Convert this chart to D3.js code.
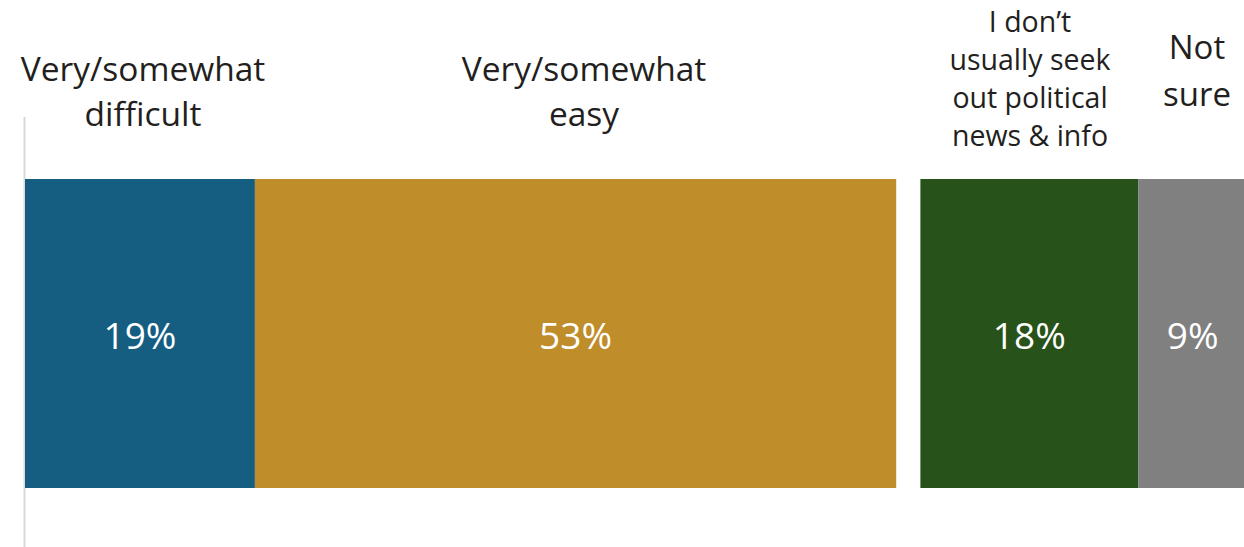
<!DOCTYPE html>
<html><head><meta charset="utf-8">
<script src="https://cdn.jsdelivr.net/npm/d3@7"></script>
<style>body{margin:0;background:#fff}svg{display:block}</style>
</head><body>
<script>
const categories = ["Very/somewhat difficult","Very/somewhat easy","I don’t usually seek out political news & info","Not sure"];
const labelLines = [["Very/somewhat","difficult"],["Very/somewhat","easy"],["I don’t","usually seek","out political","news & info"],["Not","sure"]];
const values = [19, 53, 18, 9];
const valueLabels = ["19%","53%","18%","9%"];
const colors = ["#165e81","#c08d2b","#27521a","#808080"];
const gapAfter = [0, 2, 0, 0];

const W = 1244, H = 547;
const svg = d3.select("body").append("svg").attr("width", W).attr("height", H);
const font = "'Open Sans', sans-serif";

let acc = 0;
const segs = values.map((v, i) => { const s = {i, start: acc, end: acc + v}; acc += v + gapAfter[i]; return s; });
const x = d3.scaleLinear().domain([0, 101]).range([25, 25 + 101 * 12.1]);
const y = d3.scaleBand().domain(["all"]).range([179, 488]).padding(0);

svg.append("line").attr("x1", 24.5).attr("x2", 24.5).attr("y1", 117).attr("y2", H)
  .attr("stroke", "#d9d9d9").attr("stroke-width", 2);

svg.selectAll("rect.seg").data(segs).enter().append("rect")
  .attr("x", d => x(d.start)).attr("width", d => x(d.end) - x(d.start))
  .attr("y", y("all")).attr("height", y.bandwidth())
  .attr("fill", d => colors[d.i]);

svg.selectAll("text.val").data(segs).enter().append("text")
  .attr("x", d => (x(d.start) + x(d.end)) / 2).attr("y", y("all") + y.bandwidth() / 2 + 15)
  .attr("text-anchor", "middle").attr("fill", "#fff")
  .style("font-family", font).style("font-size", "37px")
  .text(d => valueLabels[d.i]);

const labelCfg = [
  {cx: 143, base: 81, lh: 45, fs: 33.5},
  {cx: 584, base: 81, lh: 45, fs: 33.5},
  {cx: 1030, base: 32, lh: 38, fs: 28.5},
  {cx: 1197, base: 59, lh: 47, fs: 33}
];
labelLines.forEach((lines, i) => {
  const c = labelCfg[i];
  const t = svg.append("text").attr("text-anchor", "middle").attr("fill", "#231f20")
    .style("font-family", font).style("font-size", c.fs + "px");
  lines.forEach((ln, j) => t.append("tspan").attr("x", c.cx).attr("y", c.base + j * c.lh).text(ln));
});
</script>
</body></html>
